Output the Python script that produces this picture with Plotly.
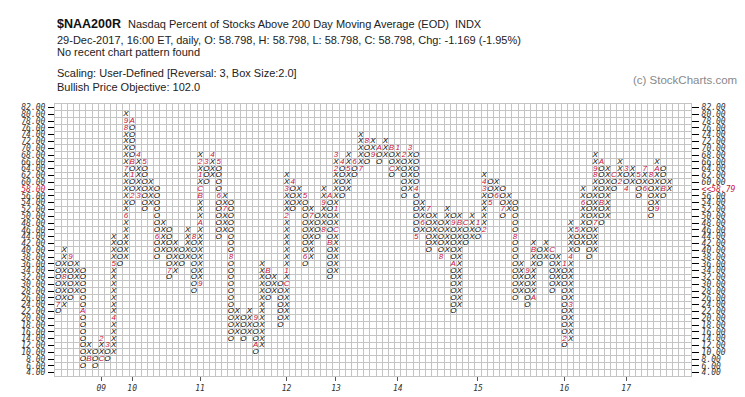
import plotly.graph_objects as go

col_kind = "OXOXOXOXOXOXOXOXOXOXOXOXOXOXOXOXOXOXOXOXOXOXOXOXOXOXOXOXOXOXOXOXOXOXOXOXOXOXOXOXOXOXOXOXOXOXOXOXOXOX"
col_low = [22, 24, 26, 28, 6, 8, 6, 8, 8, 10,
           36, 38, 54, 56, 52, 54, 38, 40, 32, 34,
           36, 38, 28, 30, 60, 62, 44, 46, 14, 16,
           14, 16, 10, 12, 26, 28, 18, 20, 52, 54,
           36, 38, 44, 46, 32, 34, 56, 58, 62, 64,
           66, 68, 66, 68, 62, 64, 56, 58, 44, 46,
           40, 42, 38, 40, 22, 24, 42, 44, 44, 46,
           54, 56, 50, 52, 26, 28, 24, 26, 36, 38,
           28, 30, 12, 14, 40, 42, 38, 40, 48, 50,
           58, 60, 58, 60, 56, 58, 50, 52, 56, 58]
col_high = [36, 40, 38, 36, 34, 12, 10, 14, 12, 44,
            42, 80, 78, 68, 66, 60, 58, 48, 46, 42,
            40, 46, 44, 68, 66, 68, 66, 56, 54, 22,
            20, 22, 20, 36, 34, 32, 30, 62, 60, 58,
            56, 52, 50, 58, 56, 68, 66, 68, 66, 74,
            72, 72, 70, 72, 70, 70, 68, 70, 68, 54,
            52, 50, 48, 52, 50, 50, 48, 50, 48, 62,
            60, 60, 58, 56, 54, 36, 34, 42, 40, 42,
            40, 38, 36, 48, 46, 58, 56, 68, 66, 64,
            62, 66, 64, 64, 62, 64, 62, 66, 64, 60]

month_col = [0, 1, 2, 4, 5, 7, 7, 8, 9, 9, 11, 11, 11, 11, 12, 12, 12, 12, 13, 13,
             14, 16, 18, 22, 23, 23, 23, 23, 23, 23, 24, 25, 26, 26, 27, 28, 32, 32, 34, 37,
             37, 37, 37, 38, 40, 40, 41, 43, 43, 44, 44, 45, 45, 45, 45, 46, 47, 48, 49, 50,
             51, 52, 54, 54, 55, 56, 57, 58, 58, 59, 60, 62, 64, 64, 65, 66, 68, 69, 69, 69,
             70, 71, 72, 74, 76, 77, 77, 80, 82, 82, 83, 83, 84, 85, 87, 87, 87, 88, 88, 90,
             91, 92, 92, 94, 95, 95, 96, 97, 97, 98]
month_box = [24, 32, 38, 22, 8, 8, 14, 12, 20, 36, 50, 64, 76, 78, 78, 66, 62, 56, 56, 68,
             66, 44, 34, 44, 30, 48, 56, 58, 62, 66, 66, 68, 66, 56, 52, 38, 20, 12, 34, 30,
             34, 50, 58, 60, 56, 38, 50, 46, 54, 56, 42, 46, 52, 64, 68, 66, 64, 66, 64, 72,
             68, 70, 70, 64, 70, 68, 70, 58, 44, 48, 52, 38, 48, 36, 48, 48, 48, 46, 58, 60,
             54, 56, 52, 44, 34, 26, 40, 40, 36, 14, 24, 38, 46, 54, 48, 62, 64, 66, 54, 62,
             60, 64, 58, 62, 58, 64, 62, 52, 64, 58]
month_code = ['7', '8', '9', 'A', 'B', 'C', '2', '3', '4', '5', '6', '7', '8', '9', 'A', 'B', '1', '2', '3', '4',
              '5', '6', '7', '8', '9', 'A', 'B', 'C', '1', '2', '3', '4', '5', '6', '7', '8', '9', 'A', 'B', 'C',
              '1', '2', '3', '4', '5', '6', '7', '8', '9', 'A', 'B', 'C', '1', '2', '3', '4', '5', '6', '7', '8',
              '9', 'A', 'B', 'C', '1', '2', '3', '4', '5', '6', '7', '8', '9', 'A', 'B', 'C', '1', '2', '3', '4',
              '5', '6', '7', '8', '9', 'A', 'B', 'C', '1', '2', '3', '4', '5', '6', '7', '8', '9', 'A', 'B', 'C',
              '2', '3', '4', '5', '6', '7', '8', '9', 'A', 'B']

box_levels = [4, 6, 8, 10, 12, 14, 16, 18, 20, 22, 24, 26, 28, 30, 32, 34, 36, 38, 40, 42,
              44, 46, 48, 50, 52, 54, 56, 58, 60, 62, 64, 66, 68, 70, 72, 74, 76, 78, 80, 82]
year_col = [7, 12, 23, 37, 45, 55, 68, 82, 92]
year_label = ['09', '10', '11', '12', '13', '14', '15', '16', '17']
last_box = 58
last_price_text = "<<58.79"

# ---------------- styling ----------------
RED = '#c8103c'
GRID = '#c4c4c4'
W, H = 745, 397
L_PX, R_PX, T_PX, B_PX = 34, 683, 95.5, 377.5

mmap = {(c, b): m for c, b, m in zip(month_col, month_box, month_code)}
xs, ys, txt, clr = [], [], [], []
for k, (kind, lo, hi) in enumerate(zip(col_kind, col_low, col_high)):
    for v in range(lo, hi + 1, 2):
        xs.append(k)
        ys.append(v)
        if (k, v) in mmap:
            txt.append(mmap[(k, v)])
            clr.append(RED)
        else:
            txt.append(kind)
            clr.append('black')

fig = go.Figure()
fig.add_trace(go.Scatter(
    x=xs, y=ys, mode='text', text=txt,
    textposition='middle center',
    textfont=dict(color=clr, size=8, family='Liberation Sans', style='italic'),
    hoverinfo='skip', showlegend=False))
# helper (empty) traces so the overlaid label axes are drawn
fig.add_trace(go.Scatter(x=[None], y=[None], xaxis='x', yaxis='y2', showlegend=False, hoverinfo='skip'))
fig.add_trace(go.Scatter(x=[None], y=[None], xaxis='x', yaxis='y3', showlegend=False, hoverinfo='skip'))
fig.add_trace(go.Scatter(x=[None], y=[None], xaxis='x2', yaxis='y', showlegend=False, hoverinfo='skip'))

left_text = []
right_text = []
for v in box_levels:
    s = f"{v:.2f}"
    if v == last_box:
        left_text.append(f"<span style='color:{RED}'>{s}</span>")
        right_text.append(f"<span style='color:{RED}'>{last_price_text}</span>")
    else:
        left_text.append(s)
        right_text.append(s)

lblfont = dict(family='DejaVu Sans Mono', size=8, color='#333333', style='italic')
yr = [min(box_levels) - 1, max(box_levels) + 1]
xr = [-0.5, 102.5]

fig.update_layout(
    width=W, height=H, autosize=False,
    margin=dict(l=L_PX, r=W - R_PX, t=T_PX, b=H - B_PX, pad=0),
    plot_bgcolor='white', paper_bgcolor='white',
    showlegend=False,
    xaxis=dict(range=xr, tick0=0.5, dtick=1, showgrid=True, gridcolor=GRID, gridwidth=1,
               showticklabels=False, ticks='', zeroline=False,
               showline=True, linecolor=GRID, linewidth=1, mirror=True, fixedrange=True),
    yaxis=dict(range=yr, tick0=3, dtick=2, showgrid=True, gridcolor=GRID, gridwidth=1,
               showticklabels=False, ticks='', zeroline=False,
               showline=True, linecolor=GRID, linewidth=1, mirror=True, fixedrange=True),
    yaxis2=dict(overlaying='y', side='left', anchor='x', range=yr, tickmode='array',
                tickvals=box_levels, ticktext=left_text, ticks='outside', ticklen=6,
                tickcolor='black', tickwidth=1, showgrid=False, zeroline=False,
                showline=False, tickfont=lblfont, ticklabelstandoff=1, fixedrange=True),
    yaxis3=dict(overlaying='y', side='right', anchor='x', range=yr, tickmode='array',
                tickvals=box_levels, ticktext=right_text, ticks='outside', ticklen=7,
                tickcolor='black', tickwidth=1, showgrid=False, zeroline=False,
                showline=False, tickfont=lblfont, ticklabelstandoff=1, fixedrange=True),
    xaxis2=dict(overlaying='x', side='bottom', anchor='y', range=xr, tickmode='array',
                tickvals=year_col, ticktext=year_label, ticks='outside', ticklen=4,
                tickcolor='#555555', showgrid=False, zeroline=False, showline=False,
                tickfont=lblfont, fixedrange=True),
)


def px2paper(px, py):
    return (px - L_PX) / (R_PX - L_PX), (B_PX - py) / (B_PX - T_PX)


def add_text(px, py, text, size=11, color='#222222', xanchor='left', family='Liberation Sans'):
    x, y = px2paper(px, py)
    fig.add_annotation(x=x, y=y, xref='paper', yref='paper', text=text, showarrow=False,
                       xanchor=xanchor, yanchor='middle',
                       font=dict(size=size, color=color, family=family))


add_text(34, 13, "<b>$NAA200R</b>", size=12.5, color='#111111')
add_text(106, 13, "Nasdaq Percent of Stocks Above 200 Day Moving Average (EOD)  INDX", size=11)
add_text(34, 29, "29-Dec-2017, 16:00 ET, daily, O: 58.798, H: 58.798, L: 58.798, C: 58.798, Chg: -1.169 (-1.95%)", size=11)
add_text(34, 42, "No recent chart pattern found", size=11)
add_text(34, 63, "Scaling: User-Defined [Reversal: 3, Box Size:2.0]", size=11)
add_text(34, 78, "Bullish Price Objective: 102.0", size=11)
add_text(732, 71, "(c) StockCharts.com", size=11.5, color='#888888', xanchor='right')

fig.write_html("out.html")
